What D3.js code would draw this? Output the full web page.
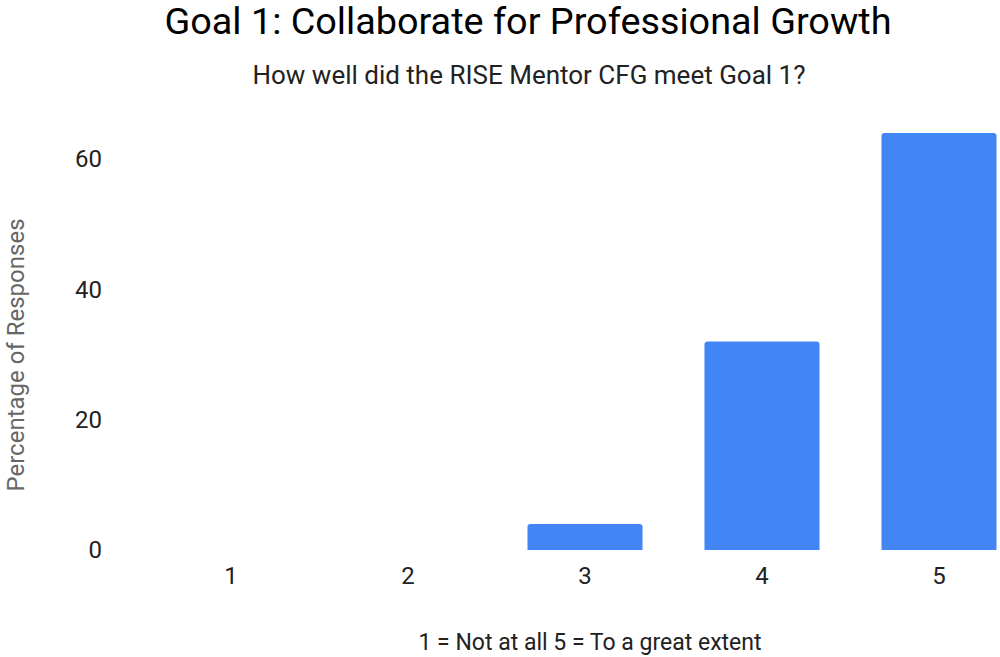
<!DOCTYPE html>
<html>
<head>
<meta charset="utf-8">
<script src="https://cdn.jsdelivr.net/npm/d3@7"></script>
<style>
  html, body { margin: 0; padding: 0; background: #fff; overflow: hidden; }
  svg { display: block; font-family: Roboto, sans-serif; }
</style>
</head>
<body>
<svg id="chart" width="1000" height="657"></svg>
<script>
const categories = ["1", "2", "3", "4", "5"];
const values = [0, 0, 4, 32, 64];
const yTicks = [0, 20, 40, 60];
const titleText = "Goal 1: Collaborate for Professional Growth";
const subtitleText = "How well did the RISE Mentor CFG meet Goal 1?";
const xTitleText = "1 = Not at all 5 = To a great extent";
const yTitleText = "Percentage of Responses";

const svg = d3.select("#chart");

const x = d3.scaleBand().domain(categories).range([142.5, 1027.5]).paddingInner(0.35).paddingOuter(0.175);
const y = d3.scaleLinear().domain([0, 60]).range([550, 159]);

// title
svg.append("text").attr("x", 528).attr("y", 34).attr("text-anchor", "middle")
  .attr("font-size", 37.8).attr("fill", "#000").text(titleText);
svg.append("text").attr("x", 529).attr("y", 84).attr("text-anchor", "middle")
  .attr("font-size", 26).attr("fill", "#222").text(subtitleText);

// bars with rounded top corners
const r = 3;
svg.append("g").selectAll("path").data(categories.map((c, i) => ({c, v: values[i]})).filter(d => d.v > 0))
  .join("path")
  .attr("fill", "#4285f4")
  .attr("d", d => {
    const x0 = x(d.c), w = x.bandwidth(), y0 = y(d.v), y1 = y(0);
    return `M${x0},${y1} L${x0},${y0 + r} Q${x0},${y0} ${x0 + r},${y0} L${x0 + w - r},${y0} Q${x0 + w},${y0} ${x0 + w},${y0 + r} L${x0 + w},${y1} Z`;
  });

// y axis
const yAxis = d3.axisLeft(y).tickValues(yTicks).tickSize(0).tickPadding(0).tickFormat(d3.format("d"));
const gy = svg.append("g").attr("transform", "translate(102,0)").call(yAxis);
gy.select(".domain").remove();
gy.selectAll("text").attr("font-size", 24).attr("fill", "#222").attr("font-family", "Roboto, sans-serif");

// x axis
const xAxis = d3.axisBottom(x).tickSize(0).tickPadding(0);
const gx = svg.append("g").attr("transform", "translate(0,567)").call(xAxis);
gx.select(".domain").remove();
gx.selectAll("text").attr("font-size", 24).attr("fill", "#222").attr("font-family", "Roboto, sans-serif");

// axis titles
svg.append("text").attr("x", 590).attr("y", 650).attr("text-anchor", "middle")
  .attr("font-size", 23).attr("fill", "#222").text(xTitleText);
svg.append("text").attr("transform", "translate(24,355) rotate(-90)").attr("text-anchor", "middle")
  .attr("font-size", 24).attr("fill", "#666").text(yTitleText);
</script>
</body>
</html>
